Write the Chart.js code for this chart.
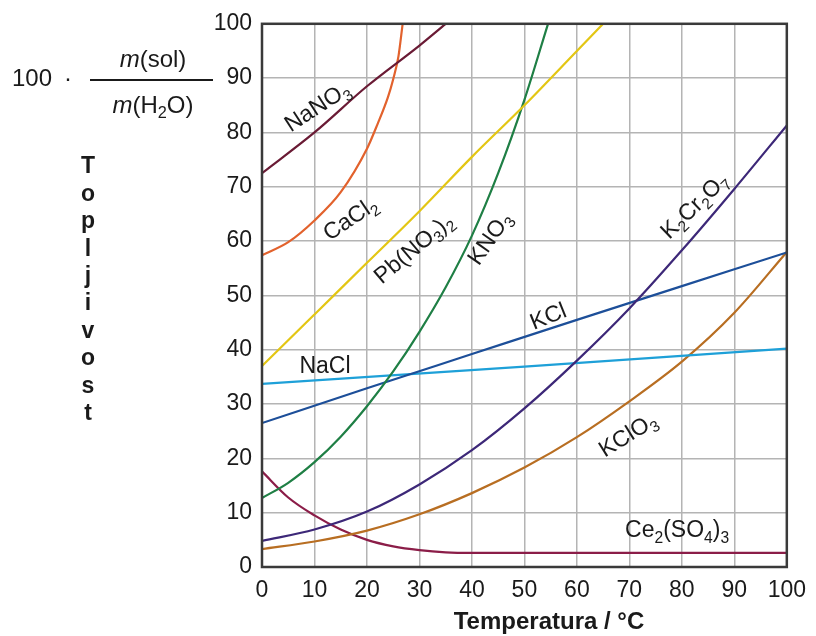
<!DOCTYPE html>
<html>
<head>
<meta charset="utf-8">
<script src="https://cdn.jsdelivr.net/npm/chart.js@4/dist/chart.umd.min.js"></script>
<style>
  html, body { margin: 0; padding: 0; background: #fff; }
</style>
</head>
<body>
<canvas id="solubility" width="816" height="636"></canvas>
<script>
// solubility curves, temperature in °C against 100 * m(sol) / m(H2O)
const nano3T = [0, 10, 20, 30, 35];
const nano3 = [72.5, 80, 88.5, 96, 100];

const cacl2T = [0, 5, 10, 15, 20, 22, 24, 25, 26, 26.8];
const cacl2 = [57.4, 59.8, 63.8, 69, 77, 81.5, 86.5, 89.8, 94, 100];

const pbno32T = [0, 10, 20, 30, 40, 50, 60, 65];
const pbno32 = [37, 46.5, 56, 65.5, 75.5, 85, 95, 100];

const kno3T = [0, 5, 10, 15, 20, 25, 30, 35, 40, 45, 50, 54.5];
const kno3 = [12.7, 15.5, 19.3, 24, 29.6, 36, 43.3, 51.5, 61, 72.5, 86, 100];

const k2cr2o7T = [0, 10, 20, 30, 40, 50, 60, 70, 80, 90, 100];
const k2cr2o7 = [4.8, 6.9, 10.2, 15.2, 21.5, 29.2, 38, 47.6, 58.3, 69.6, 81.3];

const kclT = [0, 20, 40, 60, 80, 100];
const kcl = [26.5, 32.9, 39.2, 45.5, 51.7, 57.9];

const naclT = [0, 50, 100];
const nacl = [33.7, 36.9, 40.2];

const kclo3T = [0, 10, 20, 30, 40, 50, 60, 70, 80, 90, 100];
const kclo3 = [3.3, 4.7, 6.7, 9.7, 13.6, 18.3, 23.9, 30.5, 37.8, 46.8, 58];

const ce2so43T = [0, 5, 10, 15, 20, 25, 30, 35, 40, 100];
const ce2so43 = [17.6, 12.8, 9.5, 6.9, 5, 3.8, 3.1, 2.7, 2.6, 2.6];

const xTicks = [0, 10, 20, 30, 40, 50, 60, 70, 80, 90, 100];

// where the names sit on the plot (data units) and how they are turned
const curveLabels = [
    { parts: ["NaNO", "_3"], x: 10.6, y: 84.6, angle: -33 },
    { parts: ["CaCl", "_2"], x: 16.9, y: 64, angle: -34 },
    { parts: ["Pb(NO", "_3", ")", "_2"], x: 29, y: 58.5, angle: -40 },
    { parts: ["KNO", "_3"], x: 43.5, y: 60.4, angle: -55 },
    { parts: ["K", "_2", "Cr", "_2", "O", "_7"], x: 82.5, y: 66.4, angle: -44 },
    { parts: ["KCl"], x: 54.6, y: 46, angle: -22 },
    { parts: ["NaCl"], x: 12, y: 36.9, angle: 0 },
    { parts: ["KClO", "_3"], x: 69.8, y: 24.2, angle: -32 },
    { parts: ["Ce", "_2", "(SO", "_4", ")", "_3"], x: 79.1, y: 6.6, angle: 0 }
];

function pts(ts, ys) {
    return ts.map((t, i) => ({ x: t, y: ys[i] }));
}

function curve(label, ts, ys, color) {
    return {
        label: label,
        data: pts(ts, ys),
        borderColor: color,
        borderWidth: 2.2,
        pointRadius: 0,
        fill: false,
        cubicInterpolationMode: "monotone"
    };
}

const FONT = "'Liberation Sans', Arial, sans-serif";

function drawRich(ctx, parts, x, y, angle, size) {
    ctx.save();
    ctx.translate(x, y);
    ctx.rotate(angle * Math.PI / 180);
    ctx.textBaseline = "middle";
    ctx.textAlign = "left";
    const fontOf = p => {
        if (p.startsWith("_")) return (size * 0.68) + "px " + FONT;
        if (p.startsWith("*")) return "italic " + size + "px " + FONT;
        return size + "px " + FONT;
    };
    let w = 0;
    parts.forEach(p => {
        ctx.font = fontOf(p);
        w += ctx.measureText(p.replace(/^[_*]/, "")).width;
    });
    let cx = -w / 2;
    parts.forEach(p => {
        ctx.font = fontOf(p);
        const t = p.replace(/^[_*]/, "");
        ctx.fillText(t, cx, p.startsWith("_") ? size * 0.32 : 0);
        cx += ctx.measureText(t).width;
    });
    ctx.restore();
}

const decorations = {
    id: "decorations",
    afterDatasetsDraw(chart) {
        const { ctx, chartArea: a, scales } = chart;
        ctx.save();
        ctx.strokeStyle = "#3a3a3a";
        ctx.lineWidth = 2.5;
        ctx.strokeRect(a.left, a.top, a.right - a.left, a.bottom - a.top);

        ctx.fillStyle = "#1a1a1a";
        curveLabels.forEach(l => {
            drawRich(ctx, l.parts, scales.x.getPixelForValue(l.x),
                scales.y.getPixelForValue(l.y), l.angle, 23);
        });

        // y title: fraction and the stacked word
        drawRich(ctx, ["100"], 32, 79, 0, 24);
        drawRich(ctx, ["·"], 68, 79, 0, 24);
        ctx.beginPath();
        ctx.moveTo(90, 80);
        ctx.lineTo(213, 80);
        ctx.lineWidth = 2;
        ctx.strokeStyle = "#1a1a1a";
        ctx.stroke();
        drawRich(ctx, ["*m", "(sol)"], 153, 60, 0, 24);
        drawRich(ctx, ["*m", "(H", "_2", "O)"], 153, 106, 0, 24);

        ctx.font = "bold 23px " + FONT;
        ctx.textAlign = "center";
        ctx.textBaseline = "middle";
        "Topljivost".split("").forEach((c, i) => {
            ctx.fillText(c, 88, 167 + i * 27.4);
        });

        ctx.font = "bold 24px " + FONT;
        ctx.fillText("Temperatura / °C", 549, 622);
        ctx.restore();
    }
};

const ctx = document.getElementById("solubility");
const chart = new Chart(ctx, {
    type: "line",
    data: {
        datasets: [
            curve("NaNO3", nano3T, nano3, "#6a1b35"),
            curve("CaCl2", cacl2T, cacl2, "#e2622d"),
            curve("Pb(NO3)2", pbno32T, pbno32, "#e3c614"),
            curve("KNO3", kno3T, kno3, "#1f7f45"),
            curve("K2Cr2O7", k2cr2o7T, k2cr2o7, "#3d2878"),
            curve("KCl", kclT, kcl, "#1d4f99"),
            curve("NaCl", naclT, nacl, "#1ea0d8"),
            curve("KClO3", kclo3T, kclo3, "#b86e22"),
            curve("Ce2(SO4)3", ce2so43T, ce2so43, "#8b1d48")
        ]
    },
    options: {
        responsive: false,
        animation: false,
        layout: { padding: { top: 22, right: 27, left: 0, bottom: 0 } },
        plugins: { legend: { display: false }, tooltip: { enabled: false } },
        scales: {
            x: {
                type: "linear",
                min: 0,
                max: 100,
                afterBuildTicks: s => { s.ticks = xTicks.map(v => ({ value: v })); },
                afterFit: s => { s.height = 69; },
                ticks: { font: { family: FONT, size: 23 }, color: "#1a1a1a", padding: 10, maxRotation: 0 },
                grid: { color: "#b4b4b4", lineWidth: 1.5, drawTicks: false },
                border: { display: false }
            },
            y: {
                min: 0,
                max: 100,
                afterFit: s => { s.width = 262; },
                ticks: { stepSize: 10, font: { family: FONT, size: 23 }, color: "#1a1a1a", padding: 10 },
                grid: { color: "#b4b4b4", lineWidth: 1.5, drawTicks: false },
                border: { display: false }
            }
        }
    },
    plugins: [decorations]
});
</script>
</body>
</html>
